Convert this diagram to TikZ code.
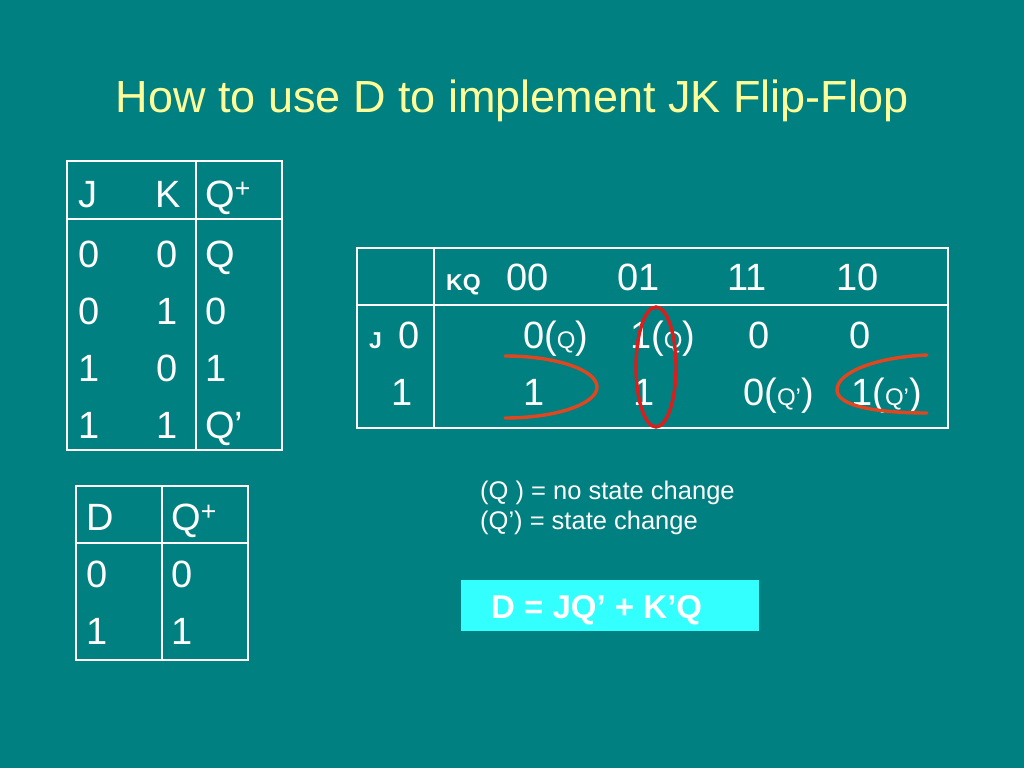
\documentclass[tikz,border=0pt]{standalone}
\usepackage{fontspec}
\setmainfont{Liberation Sans}
\definecolor{bgteal}{HTML}{008080}
\definecolor{titleyellow}{HTML}{FFFF99}
\definecolor{boxcyan}{HTML}{33FFFF}
\definecolor{curveorange}{HTML}{E2461E}
\definecolor{ellred}{HTML}{DD1C1C}
\tikzset{
  txt/.style={text=white, inner sep=0pt, anchor=base west, font=\fontsize{38}{45}\selectfont},
  smb/.style={text=white, inner sep=0pt, anchor=base west, font=\fontsize{23}{27}\selectfont\bfseries},
  legend/.style={text=white, inner sep=0pt, anchor=base west, font=\fontsize{25.5}{30}\selectfont},
  grid/.style={draw=white, line width=2.6pt},
  mark curve/.style={draw=curveorange, line width=3.4pt, line cap=round},
}
\newcommand{\smq}[1]{{\fontsize{24}{28}\selectfont #1}}
\begin{document}
\begin{tikzpicture}[x=1pt,y=-1pt]
\fill[bgteal] (0,0) rectangle (1024,768);
\useasboundingbox (0,0) rectangle (1024,768);

% title
\node[text=titleyellow, inner sep=0pt, anchor=base, font=\fontsize{45}{54}\selectfont] (title) at (512,112) {How to use D to implement JK Flip-Flop};

% JK table
\draw[grid] (67,161) rectangle (282,450);
\draw[grid] (196,161) -- (196,450);
\draw[grid] (67,219) -- (282,219);
\node[txt] (jkJ) at (78,207) {J};
\node[txt] (jkK) at (155,207) {K};
\node[txt] (jkQ) at (205,207) {Q\textsuperscript{+}};
\node[txt] (r1a) at (78,267) {0};
\node[txt] (r1b) at (156,267) {0};
\node[txt] (r1c) at (205,267) {Q};
\node[txt] (r2a) at (78,324) {0};
\node[txt] (r2b) at (156,324) {1};
\node[txt] (r2c) at (205,324) {0};
\node[txt] (r3a) at (78,381) {1};
\node[txt] (r3b) at (156,381) {0};
\node[txt] (r3c) at (205,381) {1};
\node[txt] (r4a) at (78,438) {1};
\node[txt] (r4b) at (156,438) {1};
\node[txt] (r4c) at (205,438) {Q’};

% D table
\draw[grid] (76,486) rectangle (248,660);
\draw[grid] (162,486) -- (162,660);
\draw[grid] (76,543) -- (248,543);
\node[txt] (dD) at (86,530) {D};
\node[txt] (dQ) at (171,530) {Q\textsuperscript{+}};
\node[txt] (d1a) at (86,587) {0};
\node[txt] (d1b) at (171,587) {0};
\node[txt] (d2a) at (86,644) {1};
\node[txt] (d2b) at (171,644) {1};

% K-map
\draw[grid] (357,248) rectangle (948,428);
\draw[grid] (434,248) -- (434,428);
\draw[grid] (357,305) -- (948,305);
\node[smb] (kq) at (446,290) {KQ};
\node[txt] (h00) at (506,290) {00};
\node[txt] (h01) at (617,290) {01};
\node[txt] (h11) at (727,290) {11};
\node[txt] (h10) at (836,290) {10};
\node[smb] (jlab) at (369,348) {J};
\node[txt] (j0) at (398,348) {0};
\node[txt] (c00) at (523,348) {0(\smq{Q})};
\node[txt] (c01) at (630,348) {1(\smq{Q})};
\node[txt] (c11) at (748,348) {0};
\node[txt] (c10) at (849,348) {0};
\node[txt] (j1) at (391,405) {1};
\node[txt] (d00) at (523,405) {1};
\node[txt] (d01) at (633,405) {1};
\node[txt] (d11) at (743,405) {0(\smq{Q’})};
\node[txt] (d10) at (851,405) {1(\smq{Q’})};

% groupings
\draw[mark curve] (505,356) .. controls (556,356) and (597,370) .. (597,387) .. controls (597,404) and (556,418) .. (505,418);
\draw[mark curve] (927,355) .. controls (877,357) and (837,372) .. (837,390) .. controls (837,406) and (877,413) .. (927,413);
\draw[draw=ellred, line width=3.4pt] (656,367) ellipse [x radius=20, y radius=60];

% legend
\node[legend] (leg1) at (480,499) {(Q ) = no state change};
\node[legend] (leg2) at (480,529) {(Q’) = state change};

% result box
\node[fill=boxcyan, minimum width=298pt, minimum height=51pt, inner sep=0pt, anchor=north west] (res) at (461,580) {};
\node[text=white, inner sep=0pt, anchor=base west, font=\fontsize{33}{40}\selectfont\bfseries] (restext) at (491,618) {D = JQ’ + K’Q};
\end{tikzpicture}
\end{document}
